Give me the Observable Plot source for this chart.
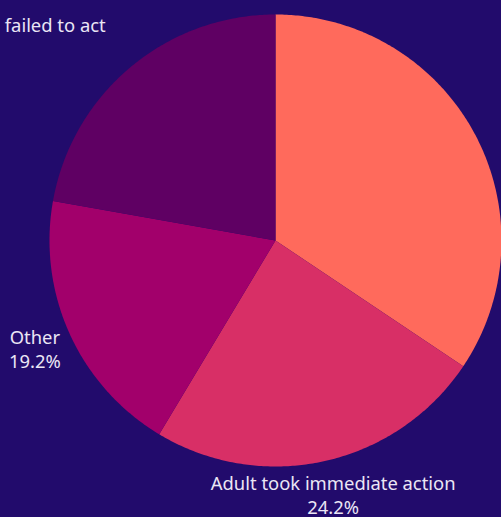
<!DOCTYPE html>
<html>
<head>
<meta charset="utf-8">
<script src="https://cdn.jsdelivr.net/npm/d3@7"></script>
<script src="https://cdn.jsdelivr.net/npm/@observablehq/plot@0.6"></script>
<style>
  html, body { margin: 0; padding: 0; background: #220b6c; }
  #chart svg { display: block; }
</style>
</head>
<body>
<div id="chart"></div>
<script>
// Data
const categories = ["Adult took action later", "Adult took immediate action", "Other", "Adult failed to act"];
const values = [34.4, 24.2, 19.2, 22.2];
const labelTexts = ["", "Adult took immediate action\n24.2%", "Other\n19.2%", "failed to act"];
const colors = ["#ff6a5c", "#d82f66", "#a2006b", "#5f0063"];

// Label layout (not data)
const labelLayout = [
  {r: 1.17, anchor: "middle", dx: 0, dy: 0},
  {r: 1.17, anchor: "middle", dx: 0, dy: -4},
  {r: 1.17, anchor: "middle", dx: 0, dy: -2},
  {r: 1.17, anchor: "end", dx: 0, dy: -13}
];

const pie = d3.pie().sort(null).value(d => d.value)(
  categories.map((c, i) => ({category: c, value: values[i], color: colors[i], label: labelTexts[i], i}))
);

// slice polygons in unit coordinates (y up), angle measured clockwise from 12 o'clock
const slicePoints = [];
for (const s of pie) {
  const n = Math.max(2, Math.ceil((s.endAngle - s.startAngle) / 0.01));
  slicePoints.push({slice: s.data.category, color: s.data.color, x: 0, y: 0});
  for (let k = 0; k <= n; k++) {
    const a = s.startAngle + (s.endAngle - s.startAngle) * k / n;
    slicePoints.push({slice: s.data.category, color: s.data.color, x: Math.sin(a), y: Math.cos(a)});
  }
}

const labels = pie.filter(s => s.data.label).map(s => {
  const L = labelLayout[s.data.i];
  const a = (s.startAngle + s.endAngle) / 2;
  return {text: s.data.label, x: L.r * Math.sin(a), y: L.r * Math.cos(a), anchor: L.anchor, dx: L.dx, dy: L.dy};
});

const W = 501, H = 517;
const marks = [
  Plot.line(slicePoints, {x: "x", y: "y", z: "slice", fill: "color", stroke: "none", curve: "linear"})
];
for (const l of labels) {
  marks.push(Plot.text([l], {
    x: "x", y: "y", text: "text",
    textAnchor: l.anchor, lineAnchor: "middle", dx: l.dx, dy: l.dy,
    fill: "#ebe6f5", fontSize: 18.4, lineHeight: 1.3
  }));
}

const chart = Plot.plot({
  width: W,
  height: H,
  marginLeft: 49,
  marginRight: 0,
  marginTop: 14,
  marginBottom: 51,
  x: {domain: [-1, 1], axis: null},
  y: {domain: [-1, 1], axis: null},
  color: {type: "identity"},
  style: {background: "#220b6c", fontFamily: "'Noto Sans', sans-serif", overflow: "hidden"},
  marks
});
document.getElementById("chart").appendChild(chart);
</script>
</body>
</html>
